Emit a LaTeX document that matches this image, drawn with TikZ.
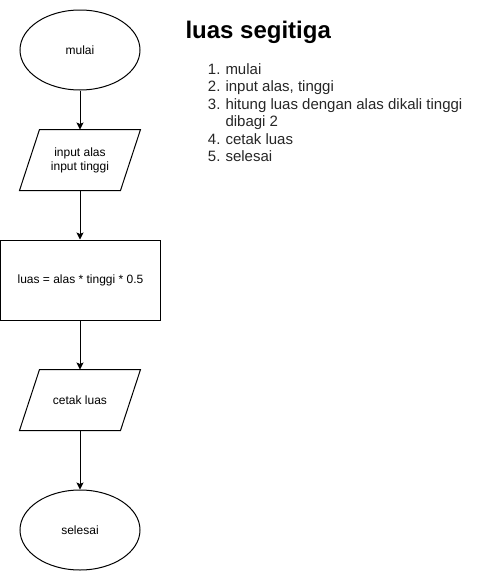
\documentclass[tikz,border=0pt]{standalone}
\usepackage{fontspec}
\setmainfont{Liberation Sans}
\usetikzlibrary{shapes.geometric,arrows.meta,calc}
\begin{document}
\begin{tikzpicture}[x=1pt,y=-1pt,
  line width=1pt,
  every node/.style={font=\fontsize{12}{14}\selectfont, inner sep=0pt},
  term/.style={ellipse, draw, minimum width=120pt, minimum height=80pt},
  iobox/.style={minimum width=120pt, minimum height=60pt, align=center},
  procbox/.style={draw, minimum width=160pt, minimum height=80pt},
  flow/.style={-{Stealth[length=7pt,width=7pt,inset=1.5pt]}},
  listtxt/.style={anchor=base west, font=\fontsize{15}{17.5}\selectfont, text=black!85}
]
\useasboundingbox (0,0) rectangle (481,571);

\node[term] (start) at (80,50) {mulai};
\node[iobox] (inp) at (80,160) {input alas\\input tinggi};
\draw ($(inp.north west)+(20,0)$) -- (inp.north east) -- ($(inp.south east)+(-20,0)$) -- (inp.south west) -- cycle;
\node[procbox] (calc) at (80.5,280) {luas = alas * tinggi * 0.5};
\node[iobox] (out) at (80,400) {cetak luas};
\draw ($(out.north west)+(20,0)$) -- (out.north east) -- ($(out.south east)+(-20,0)$) -- (out.south west) -- cycle;
\node[term] (stop) at (80,530) {selesai};

\draw[flow] (start) -- (inp);
\draw[flow] (inp) -- (calc.north -| inp);
\draw[flow] (calc.south -| out) -- (out);
\draw[flow] (out) -- (stop);

\node[anchor=base west, font=\bfseries\fontsize{24}{28}\selectfont] (title) at (185,38) {luas segitiga};

\node[listtxt, anchor=base east] (n1) at (221,74) {1.};
\node[listtxt] (t1) at (225,74) {mulai};
\node[listtxt, anchor=base east] (n2) at (221,91.5) {2.};
\node[listtxt] (t2) at (225,91.5) {input alas, tinggi};
\node[listtxt, anchor=base east] (n3) at (221,109) {3.};
\node[listtxt] (t3) at (225,109) {hitung luas dengan alas dikali tinggi};
\node[listtxt] (t3b) at (225,126.5) {dibagi 2};
\node[listtxt, anchor=base east] (n4) at (221,144) {4.};
\node[listtxt] (t4) at (225,144) {cetak luas};
\node[listtxt, anchor=base east] (n5) at (221,161.5) {5.};
\node[listtxt] (t5) at (225,161.5) {selesai};
\end{tikzpicture}
\end{document}
